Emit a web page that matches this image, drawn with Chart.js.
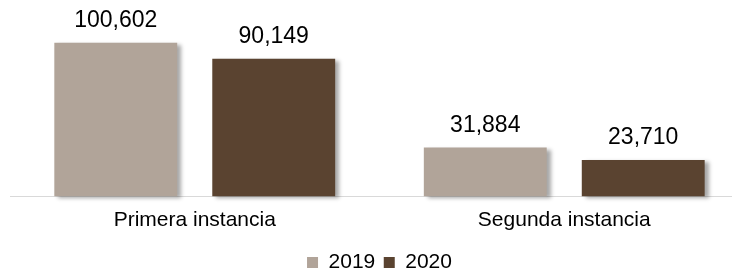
<!DOCTYPE html>
<html>
<head>
<meta charset="utf-8">
<script src="https://cdn.jsdelivr.net/npm/chart.js@4"></script>
<style>
  html, body { margin: 0; padding: 0; background: #fff; }
  #wrap { width: 732px; height: 270px; overflow: hidden; }
</style>
</head>
<body>
<div id="wrap"><canvas id="chart" width="760" height="283"></canvas></div>
<script>
const categorias = ['Primera instancia', 'Segunda instancia'];
const anios = ['2019', '2020'];
const valores2019 = [100602, 31884];
const valores2020 = [90149, 23710];
const colores = ['#b1a499', '#5a4330'];

const FUENTE = '"Liberation Sans", Arial, sans-serif';

// sombra de las barras + etiquetas de valor
const sombraYEtiquetas = {
  id: 'sombraYEtiquetas',
  beforeDatasetsDraw(chart) {
    const c = chart.ctx;
    c.save();
    c.shadowColor = 'rgba(0,0,0,0.35)';
    c.shadowBlur = 4;
    c.shadowOffsetX = 4;
    c.shadowOffsetY = 2;
  },
  afterDatasetsDraw(chart) {
    const c = chart.ctx;
    c.restore();
    c.save();
    c.font = '23px ' + FUENTE;
    c.fillStyle = '#000';
    c.textAlign = 'center';
    c.textBaseline = 'alphabetic';
    chart.data.datasets.forEach((ds, i) => {
      chart.getDatasetMeta(i).data.forEach((bar, j) => {
        c.fillText(ds.data[j].toLocaleString('en-US'), bar.x, bar.y - 16);
      });
    });
    c.restore();
  }
};

new Chart(document.getElementById('chart'), {
  type: 'bar',
  data: {
    labels: categorias,
    datasets: [
      { label: anios[0], data: valores2019, backgroundColor: colores[0], clip: false },
      { label: anios[1], data: valores2020, backgroundColor: colores[1], clip: false }
    ]
  },
  options: {
    responsive: false,
    animation: false,
    categoryPercentage: 0.855,
    barPercentage: 0.778,
    layout: { padding: { top: 10, left: 10, right: 11, bottom: 0 } },
    plugins: {
      legend: {
        position: 'bottom',
        fullSize: false,
        labels: {
          boxWidth: 11,
          boxHeight: 11,
          padding: 8.5,
          color: '#000',
          font: { family: FUENTE, size: 21 }
        }
      },
      tooltip: { enabled: false }
    },
    scales: {
      x: {
        grid: { display: false, drawTicks: false },
        border: { display: true, color: '#d9d9d9', width: 1 },
        ticks: { color: '#000', padding: 11, font: { family: FUENTE, size: 21 } }
      },
      y: { display: false, min: 0, max: 122000 }
    }
  },
  plugins: [sombraYEtiquetas]
});
</script>
</body>
</html>
